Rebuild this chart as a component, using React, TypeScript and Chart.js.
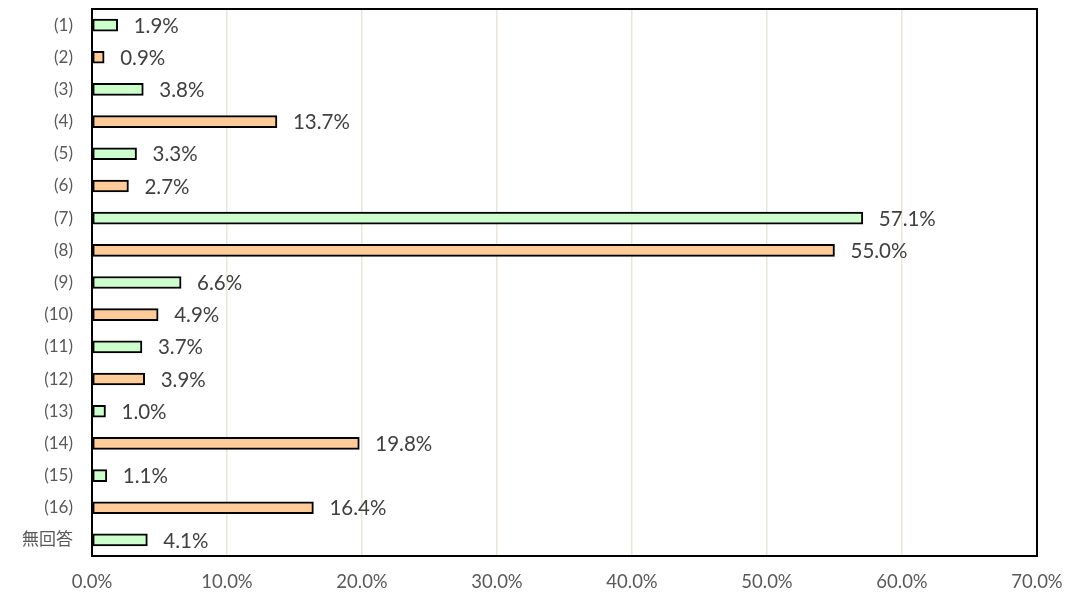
import React, { useEffect, useRef } from "react";
import { Chart, registerables } from "chart.js";

Chart.register(...registerables);

const categories = ["(1)", "(2)", "(3)", "(4)", "(5)", "(6)", "(7)", "(8)", "(9)", "(10)", "(11)", "(12)", "(13)", "(14)", "(15)", "(16)", "無回答"];
const values = [1.9, 0.9, 3.8, 13.7, 3.3, 2.7, 57.1, 55.0, 6.6, 4.9, 3.7, 3.9, 1.0, 19.8, 1.1, 16.4, 4.1];
const barColors = ["#ccffcc", "#ffcc99"];
const xTicks = [0, 10, 20, 30, 40, 50, 60, 70];

const FONT = "Lato, 'Noto Sans', 'Noto Sans CJK JP', sans-serif";

const frameAndLabels = {
  id: "frameAndLabels",
  afterDatasetsDraw(chart: any) {
    const { ctx, chartArea } = chart;
    const meta = chart.getDatasetMeta(0);
    ctx.save();
    ctx.font = `20.5px ${FONT}`;
    ctx.fillStyle = "#404040";
    ctx.textAlign = "left";
    ctx.textBaseline = "middle";
    meta.data.forEach((bar: any, i: number) => {
      ctx.fillText(values[i].toFixed(1) + "%", bar.x + 16, bar.y + 1);
    });
    ctx.strokeStyle = "#000";
    ctx.lineWidth = 2;
    ctx.strokeRect(chartArea.left, chartArea.top, chartArea.right - chartArea.left, chartArea.bottom - chartArea.top);
    ctx.restore();
  },
};

export default function App() {
  const ref = useRef<HTMLCanvasElement | null>(null);
  useEffect(() => {
    document.body.style.margin = "0";
    const chart = new Chart(ref.current!, {
      type: "bar",
      data: {
        labels: categories,
        datasets: [
          {
            data: values,
            backgroundColor: categories.map((_, i) => barColors[i % 2]),
            borderColor: "#000000",
            borderWidth: 2,
            borderSkipped: false,
            barThickness: 12,
          },
        ],
      },
      options: {
        indexAxis: "y",
        animation: false,
        responsive: false,
        layout: { padding: { top: 9, right: 30, left: 0, bottom: 0 } },
        plugins: { legend: { display: false }, tooltip: { enabled: false } },
        scales: {
          x: {
            min: 0,
            max: 70,
            afterBuildTicks(axis: any) {
              axis.ticks = xTicks.map((v) => ({ value: v }));
            },
            afterFit(axis: any) {
              axis.height = 39;
              axis.paddingLeft = 0;
              axis.paddingRight = 0;
            },
            grid: {
              color: (c: any) => (c.tick && (c.tick.value === 0 || c.tick.value === 70) ? "rgba(0,0,0,0)" : "#e9e5da"),
              lineWidth: 1.5,
              drawTicks: false,
            },
            border: { display: false },
            ticks: {
              padding: 15,
              color: "#595959",
              font: { size: 18.5, family: FONT },
              callback: (v: any) => Number(v).toFixed(1) + "%",
            },
          },
          y: {
            afterFit(axis: any) {
              axis.width = 92;
              axis.paddingTop = 0;
              axis.paddingBottom = 0;
            },
            grid: { display: false, drawTicks: false },
            border: { display: false },
            ticks: {
              padding: 19,
              color: "#595959",
              font: { size: 17, family: FONT },
            },
          },
        },
      },
      plugins: [frameAndLabels],
    });
    return () => chart.destroy();
  }, []);
  return (
    <div style={{ position: "fixed", left: 0, top: 0, width: 1067, height: 595 }}>
      <canvas ref={ref} width={1067} height={595} style={{ width: 1067, height: 595 }} />
    </div>
  );
}
